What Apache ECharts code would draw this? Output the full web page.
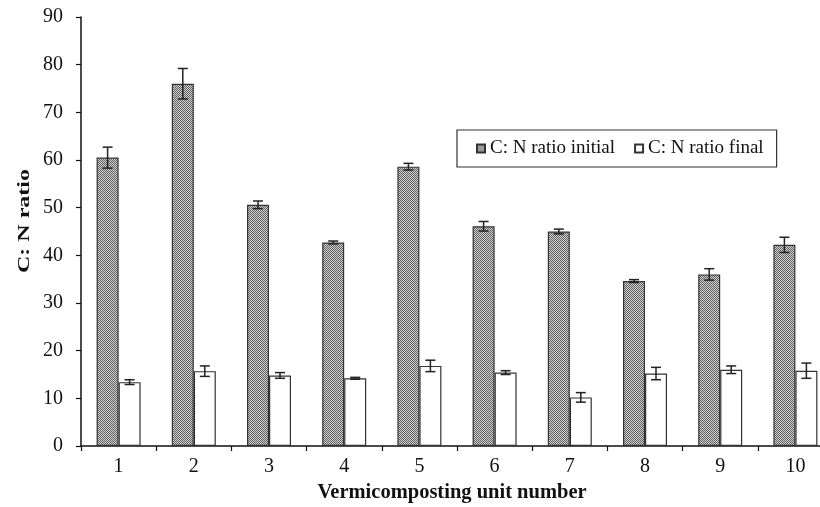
<!DOCTYPE html>
<html><head><meta charset="utf-8">
<script src="https://cdn.jsdelivr.net/npm/echarts@6/dist/echarts.min.js"></script>
<style>html,body{margin:0;padding:0;background:#fff}#c{width:820px;height:507px}</style>
</head><body><div id="c"></div>
<script>
var categories = ['1','2','3','4','5','6','7','8','9','10'];
var initialVals = [60.5, 76.0, 50.6, 42.7, 58.6, 46.1, 45.0, 34.6, 36.0, 42.2];
var initialErr  = [2.2, 3.2, 0.8, 0.3, 0.7, 1.0, 0.5, 0.3, 1.2, 1.6];
var finalVals   = [13.4, 15.7, 14.8, 14.2, 16.8, 15.4, 10.2, 15.2, 16.0, 15.8];
var finalErr    = [0.5, 1.1, 0.6, 0.2, 1.2, 0.4, 1.0, 1.3, 0.8, 1.6];
var yTicks = [0,10,20,30,40,50,60,70,80,90];

var pc = document.createElement('canvas');
pc.width = 2; pc.height = 2;
var pctx = pc.getContext('2d');
pctx.fillStyle = '#d4d4d4'; pctx.fillRect(0,0,2,2);
pctx.fillStyle = '#5e5e5e'; pctx.fillRect(0,0,1,1); pctx.fillRect(1,1,1,1);

var BW = 22;
var font = '"Liberation Serif", "Times New Roman", serif';

function errSeries(name, vals, errs, off) {
  return {
    type: 'custom', name: name + '_err', silent: true, z: 5,
    data: vals.map(function(v,i){return [i, v - errs[i], v + errs[i]];}),
    renderItem: function(params, api) {
      var lo = api.coord([api.value(0), api.value(1)]);
      var hi = api.coord([api.value(0), api.value(2)]);
      var x = lo[0] + off, cw = 5;
      var st = {stroke:'#222', lineWidth:1.5};
      return {type:'group', children:[
        {type:'line', shape:{x1:x,y1:lo[1],x2:x,y2:hi[1]}, style:st},
        {type:'line', shape:{x1:x-cw,y1:lo[1],x2:x+cw,y2:lo[1]}, style:st},
        {type:'line', shape:{x1:x-cw,y1:hi[1],x2:x+cw,y2:hi[1]}, style:st}
      ]};
    }
  };
}

var chart = echarts.init(document.getElementById('c'), null, {renderer:'canvas'});
chart.setOption({
  animation: false,
  backgroundColor: '#fff',
  grid: {left: 81, top: 17, height: 429, width: 752, outerBoundsMode: 'none', containLabel: false},
  legend: {
    data: ['C: N ratio initial', 'C: N ratio final'],
    left: 457, top: 130,
    padding: [9, 13, 9, 19],
    borderColor: '#333', borderWidth: 1.2,
    itemWidth: 8, itemHeight: 8, itemGap: 19,
    textStyle: {fontFamily: font, fontSize: 19, color: '#111'},
    icon: 'rect'
  },
  graphic: [{
    type: 'text', x: 25, y: 221, rotation: Math.PI/2, scaleX: 1.5,
    style: {text: 'C: N ratio', fontFamily: font, fontSize: 16, fontWeight: 'bold', fill: '#111',
      align: 'center', verticalAlign: 'middle'}
  }],
  xAxis: {
    type: 'category', data: categories,
    name: 'Vermicomposting unit number', nameLocation: 'middle', nameGap: 36,
    nameTextStyle: {fontFamily: font, fontSize: 20.5, fontWeight: 'bold', color: '#111', padding:[0,10,0,0]},
    axisLine: {lineStyle: {color: '#111', width: 1.5}},
    axisTick: {show: true, length: 5, lineStyle:{color:'#111', width:1.2}},
    axisLabel: {fontFamily: font, fontSize: 20, color: '#111', margin: 11}
  },
  yAxis: {
    type: 'value', min: 0, max: 90, interval: 10,
    axisLine: {show: true, lineStyle: {color: '#111', width: 1.5}},
    axisTick: {show: true, length: 5, lineStyle:{color:'#111', width:1.2}},
    axisLabel: {fontFamily: font, fontSize: 20, color: '#111', margin: 18,
      formatter: function(v){ return yTicks.indexOf(v) >= 0 ? String(v) : ''; }},
    splitLine: {show: false}
  },
  series: [
    {type:'bar', name:'C: N ratio initial', data: initialVals, barWidth: BW, barGap: '0%',
     itemStyle: {color: {image: pc, repeat: 'repeat'}, borderColor: '#333', borderWidth: 1.2}},
    {type:'bar', name:'C: N ratio final', data: finalVals, barWidth: BW, barGap: '0%',
     itemStyle: {color: '#fff', borderColor: '#333', borderWidth: 1.2}},
    errSeries('initial', initialVals, initialErr, -BW/2),
    errSeries('final', finalVals, finalErr, BW/2)
  ]
});
</script></body></html>
